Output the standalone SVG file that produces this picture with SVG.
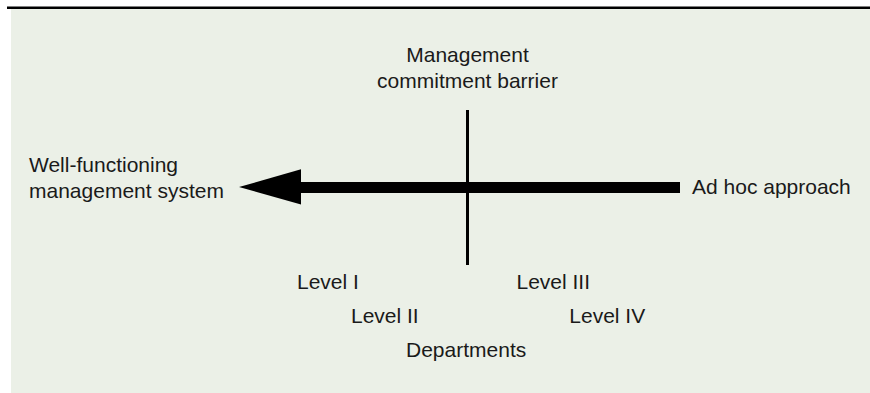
<svg xmlns="http://www.w3.org/2000/svg" width="870" height="393" viewBox="0 0 870 393">
  <style>
    .lbl { font-family: "Liberation Sans", Arial, sans-serif; font-size: 21px; fill: #1a1a1a; }
    .mid { text-anchor: middle; }
  </style>
  <rect x="0" y="0" width="870" height="393" fill="#ffffff"/>
  <!-- panel and top rule -->
  <rect x="11" y="8" width="859" height="385" fill="#ebf0e7"/>
  <rect x="7" y="6.5" width="863" height="2.5" fill="#000000"/>

  <g id="connectors">
    <!-- barrier line -->
    <line x1="467.5" y1="110" x2="467.5" y2="265" stroke="#000" stroke-width="3"/>
    <!-- thick arrow pointing left -->
    <rect x="300" y="182" width="380" height="11" fill="#000"/>
    <polygon points="239,187 301,169.3 301,204.5" fill="#000"/>
  </g>

  <g id="barrier">
    <text class="lbl mid" x="467.5" y="62">Management</text>
    <text class="lbl mid" x="467.5" y="88.3">commitment barrier</text>
  </g>
  <g id="well-functioning">
    <text class="lbl" x="29" y="171.7">Well-functioning</text>
    <text class="lbl" x="29" y="198.3">management system</text>
  </g>
  <g id="ad-hoc">
    <text class="lbl" x="692" y="194.3">Ad hoc approach</text>
  </g>
  <g id="level-1"><text class="lbl" x="297" y="289.3">Level I</text></g>
  <g id="level-2"><text class="lbl" x="351" y="323.3">Level II</text></g>
  <g id="level-3"><text class="lbl" x="516.5" y="289.3">Level III</text></g>
  <g id="level-4"><text class="lbl" x="569.3" y="323.3">Level IV</text></g>
  <g id="departments"><text class="lbl" x="406" y="356.7">Departments</text></g>
</svg>
